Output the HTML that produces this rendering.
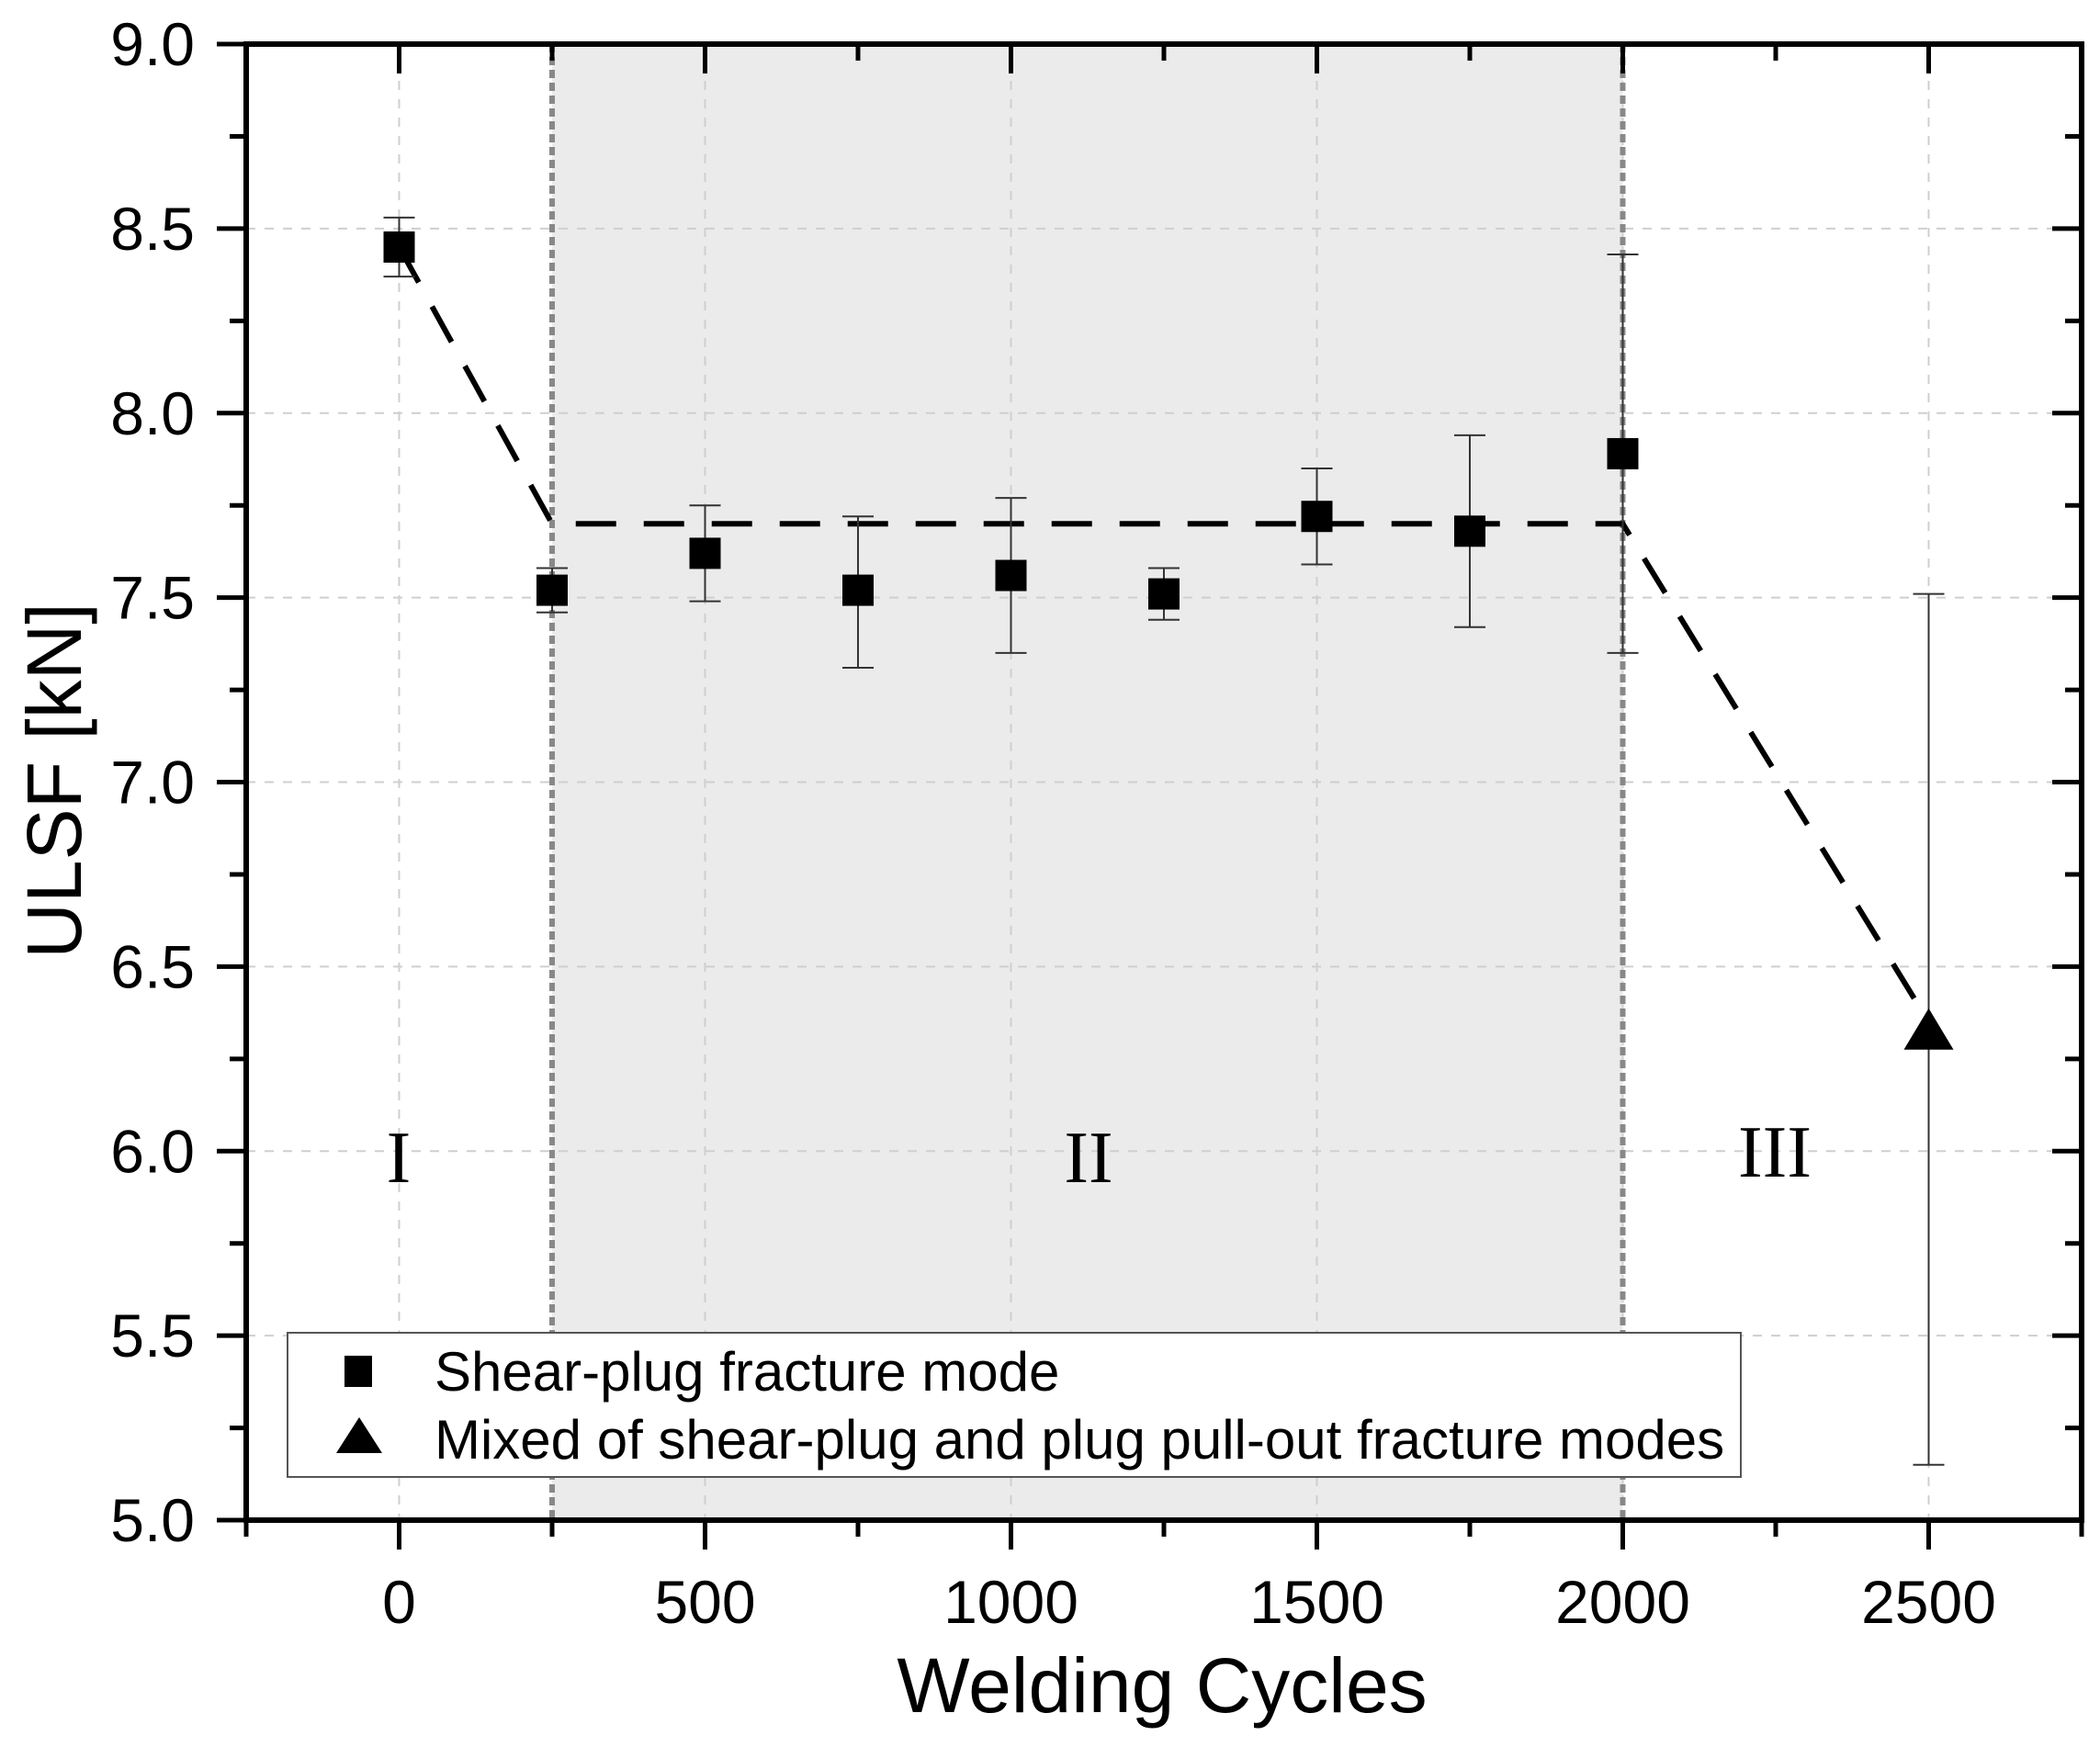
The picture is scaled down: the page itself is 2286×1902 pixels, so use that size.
<!DOCTYPE html>
<html><head><meta charset="utf-8">
<style>html,body{margin:0;padding:0;background:#fff;}svg{display:block;}</style>
</head><body>
<svg id="chart" width="2286" height="1902" viewBox="0 0 2286 1902" xmlns="http://www.w3.org/2000/svg" font-family="Liberation Sans, Arial, sans-serif">
</svg>
<script>
const xCats = [0, 250, 500, 750, 1000, 1250, 1500, 1750, 2000];
const sqVals = [8.45, 7.52, 7.62, 7.52, 7.56, 7.51, 7.72, 7.68, 7.89];
const sqHi = [8.53, 7.58, 7.75, 7.72, 7.77, 7.58, 7.85, 7.94, 8.43];
const sqLo = [8.37, 7.46, 7.49, 7.31, 7.35, 7.44, 7.59, 7.42, 7.35];
const triX = [2500];
const triVals = [6.32];
const triHi = [7.51];
const triLo = [5.15];
const trendX = [0, 250, 2000, 2500];
const trendY = [8.45, 7.70, 7.70, 6.35];
const xTicks = [0, 500, 1000, 1500, 2000, 2500];
const yTicks = [5.0, 5.5, 6.0, 6.5, 7.0, 7.5, 8.0, 8.5, 9.0];
const regionBounds = [250, 2000];

const NS = 'http://www.w3.org/2000/svg';
const svg = document.getElementById('chart');
const L = 268, R = 2266, T = 48, B = 1655;
const xMin = -250, xMax = 2750, yMin = 5, yMax = 9;
const sx = v => L + (v - xMin) / (xMax - xMin) * (R - L);
const sy = v => B - (v - yMin) / (yMax - yMin) * (B - T);
function mk(tag, attrs, parent) {
  const e = document.createElementNS(NS, tag);
  for (const k in attrs) e.setAttribute(k, attrs[k]);
  (parent || svg).appendChild(e);
  return e;
}

const reg = mk('rect', {x: sx(regionBounds[0]), y: T, width: sx(regionBounds[1]) - sx(regionBounds[0]), height: B - T, fill: '#ebebeb'});



xTicks.forEach(v => {
  const g = mk('line', {x1: sx(v), x2: sx(v), y1: T, y2: B, stroke: '#cfcfcf', 'stroke-width': 2, 'stroke-dasharray': '10 10'});
  
  
});
yTicks.forEach(v => {
  const g = mk('line', {x1: L, x2: R, y1: sy(v), y2: sy(v), stroke: '#cfcfcf', 'stroke-width': 2, 'stroke-dasharray': '10 10'});
  
  
});

regionBounds.forEach(v => {
  const l = mk('line', {x1: sx(v), x2: sx(v), y1: T, y2: B, stroke: '#888', 'stroke-width': 6, 'stroke-dasharray': '9 5'});
  
  
});

[['I', 434, 1287], ['II', 1185, 1287], ['III', 1932, 1281]].forEach(r => {
  const t = mk('text', {x: r[1], y: r[2], 'font-family': 'Liberation Serif, serif', 'font-size': 80, 'text-anchor': 'middle', fill: '#000'});
  t.textContent = r[0];
  
  
});

const tl = mk('polyline', {points: trendX.map((x, i) => sx(x) + ',' + sy(trendY[i])).join(' '), fill: 'none', stroke: '#000', 'stroke-width': 6, 'stroke-dasharray': '44 30'});



function errBar(x, lo, hi) {
  const g = mk('g', {stroke: '#333', 'stroke-width': 2});
  
  
  mk('line', {x1: sx(x), x2: sx(x), y1: sy(lo), y2: sy(hi)}, g);
  mk('line', {x1: sx(x) - 17, x2: sx(x) + 17, y1: sy(lo), y2: sy(lo)}, g);
  mk('line', {x1: sx(x) - 17, x2: sx(x) + 17, y1: sy(hi), y2: sy(hi)}, g);
}
xCats.forEach((x, i) => errBar(x, sqLo[i], sqHi[i]));
triX.forEach((x, i) => errBar(x, triLo[i], triHi[i]));

xCats.forEach((x, i) => {
  const s = mk('rect', {x: sx(x) - 17, y: sy(sqVals[i]) - 17, width: 34, height: 34, fill: '#000'});
  
  
});
triX.forEach((x, i) => {
  const cx = sx(x), cy = sy(triVals[i]);
  const p = mk('polygon', {points: `${cx},${cy - 27} ${cx - 27},${cy + 18} ${cx + 27},${cy + 18}`, fill: '#000'});
  
  
});

const fr = mk('rect', {x: L, y: T, width: R - L, height: B - T, fill: 'none', stroke: '#000', 'stroke-width': 6});



for (let v = -250; v <= 2750; v += 250) {
  const major = xTicks.includes(v);
  const len = major ? 32 : 18;
  const a = mk('line', {x1: sx(v), x2: sx(v), y1: B, y2: B + len, stroke: '#000', 'stroke-width': 5});
  
  
  const b = mk('line', {x1: sx(v), x2: sx(v), y1: T, y2: T + len, stroke: '#000', 'stroke-width': 5});
  
  
}
for (let v = 5.0; v <= 9.001; v += 0.25) {
  const major = Math.abs(v * 2 - Math.round(v * 2)) < 1e-6;
  const len = major ? 32 : 18;
  const a = mk('line', {x1: L - len, x2: L, y1: sy(v), y2: sy(v), stroke: '#000', 'stroke-width': 5});
  
  
  const b = mk('line', {x1: R - len, x2: R, y1: sy(v), y2: sy(v), stroke: '#000', 'stroke-width': 5});
  
  
}

xTicks.forEach(v => {
  const t = mk('text', {x: sx(v), y: 1767, 'font-size': 66, 'text-anchor': 'middle', fill: '#000'});
  t.textContent = v;
  
  
});
yTicks.forEach(v => {
  const t = mk('text', {x: 212, y: sy(v) + 23, 'font-size': 66, 'text-anchor': 'end', fill: '#000'});
  t.textContent = v.toFixed(1);
  
  
});

const xt = mk('text', {x: 1265, y: 1864, 'font-size': 84, 'text-anchor': 'middle', fill: '#000'});
xt.textContent = 'Welding Cycles';


const yt = mk('text', {x: 0, y: 0, 'font-size': 84, 'text-anchor': 'middle', fill: '#000', transform: 'translate(88,850) rotate(-90)'});
yt.textContent = 'ULSF [kN]';



const lg = mk('g', {});


mk('rect', {x: 313, y: 1451, width: 1582, height: 157, fill: '#fff', stroke: '#555', 'stroke-width': 2}, lg);
const e1 = mk('g', {}, lg);


mk('rect', {x: 375, y: 1476, width: 30, height: 34, fill: '#000'}, e1);
const t1 = mk('text', {x: 473, y: 1514, 'font-size': 60, fill: '#000'}, e1);
t1.textContent = 'Shear-plug fracture mode';
const e2 = mk('g', {}, lg);


mk('polygon', {points: '391,1543 366,1582 416,1582', fill: '#000'}, e2);
const t2 = mk('text', {x: 473, y: 1588, 'font-size': 60, fill: '#000'}, e2);
t2.textContent = 'Mixed of shear-plug and plug pull-out fracture modes';
</script>
</body></html>
